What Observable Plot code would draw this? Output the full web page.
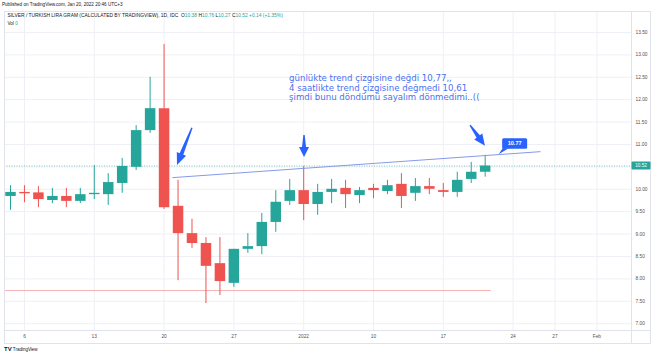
<!DOCTYPE html>
<html><head><meta charset="utf-8">
<script src="https://cdn.jsdelivr.net/npm/d3@7"></script>
<script src="https://cdn.jsdelivr.net/npm/@observablehq/plot@0.6"></script>
<style>
body{margin:0;background:#fff;}
#wrap{position:relative;width:654px;height:354px;overflow:hidden;font-family:"Liberation Sans",Arial,sans-serif;}
#wrap svg{position:absolute;left:0;top:0;}
.hdr{position:absolute;white-space:nowrap;color:#131722;line-height:1;}
.g{color:#26a69a;}
</style></head><body><div id="wrap"></div>
<script>
// ---- data ----
const barDates = ["2021-12-03","2021-12-06","2021-12-07","2021-12-08","2021-12-09","2021-12-10",
  "2021-12-13","2021-12-14","2021-12-15","2021-12-16","2021-12-17",
  "2021-12-20","2021-12-21","2021-12-22","2021-12-23","2021-12-24",
  "2021-12-27","2021-12-28","2021-12-29","2021-12-30","2021-12-31",
  "2022-01-03","2022-01-04","2022-01-05","2022-01-06","2022-01-07",
  "2022-01-10","2022-01-11","2022-01-12","2022-01-13","2022-01-14",
  "2022-01-17","2022-01-18","2022-01-19","2022-01-20"];
const barIndex = [-1,0,1,2,3,4,5,6,7,8,9,10,11,12,13,14,15,16,17,18,19,20,21,22,23,24,25,26,27,28,29,30,31,32,33];
const opens  = [9.84,9.93,9.92,9.75,9.84,9.73,9.88,9.88,10.13,10.49,11.31,11.80,9.62,9.01,8.79,8.34,7.90,8.66,8.72,9.26,9.73,9.97,9.66,9.93,10.02,9.86,10.02,9.95,10.11,9.91,10.06,9.97,9.93,10.22,10.38];
const highs  = [10.08,10.08,10.06,10.02,10.02,10.02,10.53,10.35,10.69,11.42,12.50,13.23,10.20,9.33,8.92,8.92,8.66,9.01,9.46,9.97,10.22,10.51,10.11,10.22,10.20,10.04,10.11,10.20,10.35,10.24,10.24,10.13,10.38,10.60,10.76];
const lows   = [9.53,9.70,9.59,9.68,9.59,9.68,9.77,9.64,9.91,10.42,11.25,9.55,7.96,8.68,7.45,7.63,7.81,8.57,8.54,9.04,9.64,9.30,9.42,9.68,9.57,9.68,9.79,9.88,9.57,9.73,9.88,9.82,9.82,10.13,10.27];
const closes = [9.93,9.90,9.77,9.84,9.73,9.88,9.91,10.15,10.51,11.31,11.80,9.59,9.01,8.79,8.28,7.94,8.66,8.72,9.26,9.71,9.97,9.66,9.93,10.00,9.88,9.97,9.97,10.08,9.84,10.06,10.00,9.93,10.20,10.38,10.52];

const xTickIdx = [0,5,10,15,20,25,30,35,38,41];
const xTickLabels = ["6","13","20","27","2022","10","17","24","27","Feb"];
const yTicks = [7,7.5,8,8.5,9,9.5,10,10.5,11,11.5,12,12.5,13,13.5];

const trendIdx = [10.6, 36.96];
const trendVal = [10.26, 10.84];
const lowLineIdx = [-1.43, 33.4];
const lowLineVal = 7.74;
const arrowTailIdx = [12.03, 20.06, 31.95];
const arrowTailVal = [11.36, 11.20, 11.42];
const arrowTipIdx  = [10.96, 20.06, 33.02];
const arrowTipVal  = [10.53, 10.71, 10.96];
const labelIdx = 34.0, labelVal = 10.77, labelText = "10.77";
const noteLines = ["günlükte trend çizgisine değdi 10,77,,",
                   "4 saatlikte trend çizgisine değmedi 10,61",
                   "şimdi bunu döndümü sayalım dönmedimi..(("];
const noteIdx = 18.95, noteVal = 12.27;

// ---- chart ----
const up = "#26a69a", down = "#ef5350";
const bars = barDates.map((d, k) => ({date: d, i: barIndex[k], o: opens[k], h: highs[k], l: lows[k], c: closes[k]}));
const last = bars[bars.length - 1];
const colorOf = d => d.c >= d.o ? up : down;

const chart = Plot.plot({
  width: 654, height: 354,
  marginTop: 12, marginBottom: 24, marginLeft: 4, marginRight: 23,
  x: {domain: [-1.43, 43.48]},
  y: {domain: [6.848, 13.946]},
  color: {type: "identity"},
  style: {background: "transparent", fontFamily: "Liberation Sans, Arial, sans-serif"},
  marks: [
    Plot.ruleY(yTicks, {stroke: "#eef0f5"}),
    Plot.ruleX(xTickIdx, {stroke: "#eef0f5"}),
    Plot.axisY(yTicks, {anchor: "right", tickSize: 0, tickPadding: 4, tickFormat: d => d.toFixed(2), fontSize: 4.8, fill: "#50535e", label: null}),
    Plot.axisX(xTickIdx, {anchor: "bottom", tickSize: 0, tickPadding: 4, tickFormat: d => xTickLabels[xTickIdx.indexOf(d)], fontSize: 4.8, fill: "#50535e", label: null}),
    Plot.link([{x1: lowLineIdx[0], x2: lowLineIdx[1], y: lowLineVal}], {x1: "x1", x2: "x2", y1: "y", y2: "y", stroke: "#f6b3b3", strokeWidth: 1}),
    Plot.ruleY([last.c], {stroke: up, strokeDasharray: "1,1.5", strokeOpacity: 0.6}),
    Plot.ruleX(bars, {x: "i", y1: "l", y2: "h", stroke: colorOf, strokeWidth: 1}),
    Plot.ruleX(bars, {x: "i", y1: "o", y2: "c", stroke: colorOf, strokeWidth: 10.5}),
    Plot.link([{x1: trendIdx[0], y1: trendVal[0], x2: trendIdx[1], y2: trendVal[1]}], {x1: "x1", y1: "y1", x2: "x2", y2: "y2", stroke: "#8799e8", strokeWidth: 1}),
    Plot.text([{x: noteIdx, y: noteVal, t: noteLines.join("\n")}], {x: "x", y: "y", text: "t", textAnchor: "start", lineAnchor: "middle", lineHeight: 1.12, fontSize: 8.6, fontFamily: "DejaVu Sans", fill: "#4a72f0"})
  ]
});

document.getElementById("wrap").appendChild(chart);
const sx = chart.scale("x"), sy = chart.scale("y");
const X = v => sx.apply(v), Y = v => sy.apply(v);
const svg = d3.select(chart);

// frame
const fr = svg.append("g").attr("fill", "none").attr("stroke", "#e0e3eb").attr("stroke-width", 1);
fr.append("rect").attr("x", 4.5).attr("y", 11.5).attr("width", 646).attr("height", 332);
fr.append("line").attr("x1", X(43.48) + 0.5).attr("x2", X(43.48) + 0.5).attr("y1", 11.5).attr("y2", 343.5);
fr.append("line").attr("x1", 4.5).attr("x2", 650.5).attr("y1", Y(6.848) + 0.5).attr("y2", Y(6.848) + 0.5);

// arrows
const ag = svg.append("g").attr("fill", "#2962ff");
arrowTailIdx.forEach((_, k) => {
  const x1 = X(arrowTailIdx[k]), y1 = Y(arrowTailVal[k]), x2 = X(arrowTipIdx[k]), y2 = Y(arrowTipVal[k]);
  const dx = x2 - x1, dy = y2 - y1, L = Math.hypot(dx, dy);
  const ux = dx / L, uy = dy / L, px = -uy, py = ux;
  const hl = Math.min(12, L * 0.45), nx = x2 - ux * hl, ny = y2 - uy * hl;
  const pts = [[x1 + px * 0.7, y1 + py * 0.7], [nx + px * 2, ny + py * 2], [nx + px * 5, ny + py * 5], [x2, y2],
               [nx - px * 5, ny - py * 5], [nx - px * 2, ny - py * 2], [x1 - px * 0.7, y1 - py * 0.7]];
  ag.append("polygon").attr("points", pts.map(p => p.join(",")).join(" "));
});

// price label 10.77
const lx = X(labelIdx), ly = Y(labelVal);
const lg = svg.append("g");
lg.append("polygon").attr("points", `${lx},${ly} ${lx + 4},${ly - 6} ${lx + 10},${ly - 6}`).attr("fill", "#2962ff");
lg.append("rect").attr("x", lx + 3.5).attr("y", ly - 16).attr("width", 25).attr("height", 10.5).attr("rx", 1.5).attr("fill", "#2962ff");
lg.append("text").attr("x", lx + 16).attr("y", ly - 10.7).attr("text-anchor", "middle").attr("dominant-baseline", "middle")
  .attr("fill", "#fff").attr("font-size", 5.6).attr("font-weight", "bold").attr("font-family", "Liberation Sans, Arial, sans-serif").text(labelText);

// last price tag
const py0 = Y(last.c);
const pg = svg.append("g");
pg.append("rect").attr("x", X(43.48) + 0.5).attr("y", py0 - 4).attr("width", 19).attr("height", 8).attr("rx", 1).attr("fill", up);
pg.append("text").attr("x", X(43.48) + 10).attr("y", py0 + 0.3).attr("text-anchor", "middle").attr("dominant-baseline", "middle")
  .attr("fill", "#fff").attr("font-size", 4.6).attr("font-family", "Liberation Sans, Arial, sans-serif").text(last.c.toFixed(2));

// header / footer text
const wrap = document.getElementById("wrap");
function hdr(html, left, top, size) {
  const d = document.createElement("div");
  d.className = "hdr"; d.style.left = left + "px"; d.style.top = top + "px"; d.style.fontSize = size + "px";
  d.innerHTML = html; wrap.appendChild(d);
}
hdr("Published on TradingView.com, Jan 20, 2022 20:46 UTC+3", 2, 2.5, 4.6);
hdr(`SILVER / TURKISH LIRA GRAM (CALCULATED BY TRADINGVIEW), 1D, IDC&nbsp;&nbsp;O<span class="g">${last.o.toFixed(2)}</span> H<span class="g">${last.h.toFixed(2)}</span> L<span class="g">${last.l.toFixed(2)}</span> C<span class="g">${last.c.toFixed(2)}</span> <span class="g">+0.14 (+1.35%)</span>`, 7.5, 14, 4.9);
hdr(`Vol <span class="g">0</span>`, 7.5, 22, 4.6);
hdr(`<b style="font-size:6px">TV</b> TradingView`, 4, 346, 4.5);
</script></body></html>
